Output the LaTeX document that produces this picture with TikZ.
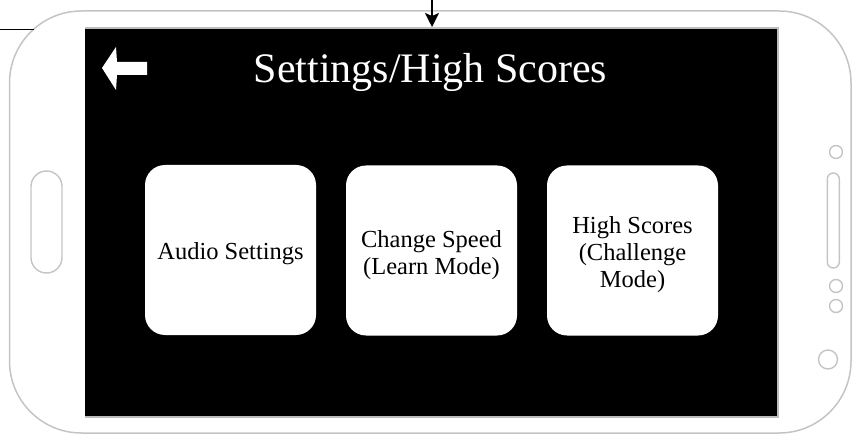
\documentclass[tikz,border=0pt]{standalone}
\usepackage{fontspec}
\setmainfont{Liberation Serif}
\usetikzlibrary{arrows.meta}
\definecolor{bezel}{HTML}{C4C4C4}
\definecolor{screenrim}{HTML}{BDBDBD}
\tikzset{
  phonebody/.style={draw=bezel, line width=1.5pt, rounded corners=72pt,
    inner sep=0pt, outer sep=0pt},
  control/.style={draw=bezel, line width=1.4pt, inner sep=0pt, outer sep=0pt},
  panel/.style={inner sep=0pt, outer sep=0pt},
  card/.style={fill=white, rounded corners=20pt, minimum width=171pt,
    minimum height=170pt, inner sep=0pt, outer sep=0pt},
  cardtext/.style={align=center, inner sep=0pt,
    font=\fontsize{24.5}{27}\selectfont},
  titletext/.style={text=white, inner sep=0pt, font=\fontsize{42}{48}\selectfont},
  wire/.style={line width=1pt},
  pointer/.style={line width=1.3pt, -{Stealth[length=14pt, width=14pt, inset=3pt]}}
}
\begin{document}
\begin{tikzpicture}[x=1pt, y=-1pt]
  \useasboundingbox (0,0) rectangle (853,435);

  % phone body
  \node[phonebody, minimum width=841.5pt, minimum height=422pt] (phone) at (430.25,222) {};

  % screen with its rim
  \node[panel, fill=screenrim, minimum width=694pt, minimum height=391pt] (screen) at (432,222.5) {};
  \node[panel, fill=black, minimum width=692pt, minimum height=387pt] (display) at (431,222.5) {};

  % hardware buttons on the left and right sides
  \node[control, rounded corners=15.5pt, minimum width=31pt, minimum height=102pt] (homekey) at (46.5,222) {};
  \node[control, circle, minimum size=13pt] (sensor) at (836,152) {};
  \node[control, rounded corners=6pt, minimum width=12pt, minimum height=95pt] (speaker) at (833.3,220.5) {};
  \node[control, circle, minimum size=13pt] (dotA) at (836,286) {};
  \node[control, circle, minimum size=13pt] (dotB) at (836,306) {};
  \node[control, circle, minimum size=19pt] (camera) at (828,359.5) {};

  % back arrow
  \fill[white] (102,68) -- (116,47) -- (117,62) -- (147,62) -- (147,75)
    -- (117,75) -- (116,90) -- cycle;

  % title
  \node[titletext, anchor=base] (title) at (430.5,83) {Settings/High Scores};

  % menu cards
  \node[card] (audio) at (230.5,250) {};
  \node[card] (speed) at (431.5,250.5) {};
  \node[card] (scores) at (632.5,250.5) {};
  \node[cardtext] (audiotext) at ([yshift=-3.3pt]audio.center) {Audio Settings};
  \node[cardtext] (speedtext) at ([yshift=-4.5pt]speed.center) {Change Speed\\(Learn Mode)};
  \node[cardtext] (scorestext) at ([yshift=-4pt]scores.center) {High Scores\\(Challenge\\Mode)};

  % incoming connectors
  \coordinate (leadin) at (0,30);
  \coordinate (leadend) at (33.5,30);
  \draw[wire] (leadin) -- (leadend);
  \coordinate (topin) at (432,0);
  \draw[pointer] (topin) -- (screen.north);
\end{tikzpicture}
\end{document}
